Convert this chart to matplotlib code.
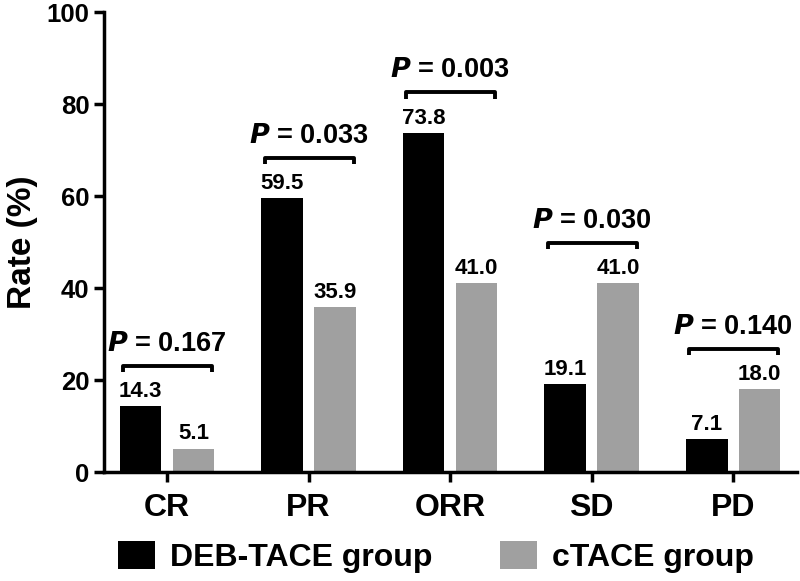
import numpy as np
import matplotlib.pyplot as plt

plt.rcParams['font.family'] = ['Liberation Sans', 'DejaVu Sans']
plt.rcParams['font.weight'] = 'bold'

categories = ['CR', 'PR', 'ORR', 'SD', 'PD']
deb_tace = [14.3, 59.5, 73.8, 19.1, 7.1]
ctace = [5.1, 35.9, 41.0, 41.0, 18.0]
p_values = ['0.167', '0.033', '0.003', '0.030', '0.140']

fig = plt.figure(figsize=(8, 5.81), dpi=100)
ax = fig.add_axes([0.13, 0.1876, 0.866, 0.7914])

x = np.arange(len(categories))
w = 0.295
off = 0.187
ax.bar(x - off, deb_tace, w, color='black', label='DEB-TACE group')
ax.bar(x + off, ctace, w, color='#a0a0a0', label='cTACE group')

for xi, a, b, p in zip(x, deb_tace, ctace, p_values):
    ax.text(xi - off, a + 0.9, f'{a:.1f}', ha='center', va='bottom', fontsize=16, fontweight='bold')
    ax.text(xi + off, b + 0.9, f'{b:.1f}', ha='center', va='bottom', fontsize=16, fontweight='bold')
    top = max(a, b) + 8.8
    ax.plot([xi - 0.31, xi - 0.31, xi + 0.32, xi + 0.32],
            [top - 1.4, top, top, top - 1.4], color='black', lw=2.8,
            solid_capstyle='butt', clip_on=False)
    ax.text(xi, top + 2.0, r'$\bf{\it{P}}$' + f' = {p}', ha='center', va='bottom',
            fontsize=19.5, fontweight='bold')

ax.set_xlim(-0.445, 4.45)
ax.set_ylim(0, 100)
ax.set_yticks(range(0, 101, 20))
ax.set_xticks(x)
ax.set_xticklabels(categories, fontsize=23, fontweight='bold')
ax.tick_params(axis='y', labelsize=18.5, width=2.5, length=7)
ax.tick_params(axis='x', width=2.5, length=7, pad=8)
for lbl in ax.get_yticklabels():
    lbl.set_fontweight('bold')
for s in ['top', 'right']:
    ax.spines[s].set_visible(False)
for s in ['left', 'bottom']:
    ax.spines[s].set_linewidth(2.5)
ax.set_ylabel('Rate (%)', fontsize=24, fontweight='bold', labelpad=6)

fig.legend(loc='center', bbox_to_anchor=(0.545, 0.041), ncol=2, frameon=False,
           prop={'size': 23, 'weight': 'bold'}, handlelength=1.17, handleheight=0.95,
           columnspacing=2.1, handletextpad=0.47)

fig.savefig('out.png', dpi=100)
